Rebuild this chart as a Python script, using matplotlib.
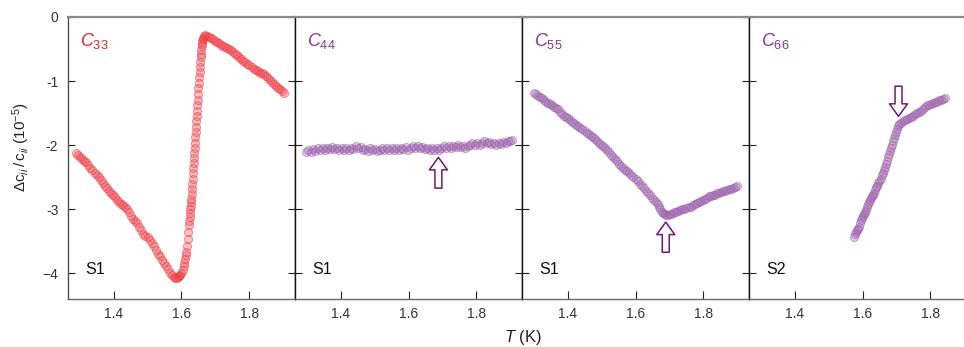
import numpy as np
import matplotlib
matplotlib.use('Agg')
import matplotlib.pyplot as plt

plt.rcParams['font.family'] = ['Liberation Sans', 'DejaVu Sans']
plt.rcParams['mathtext.fontset'] = 'custom'
plt.rcParams['mathtext.rm'] = 'Liberation Sans'
plt.rcParams['mathtext.it'] = 'Liberation Sans:italic'

# (T in K, dc/c in 1e-5)
c33_pts = [
    (1.290, -2.12), (1.296, -2.16), (1.302, -2.18), (1.308, -2.21), (1.314, -2.25),
    (1.320, -2.27), (1.326, -2.31), (1.332, -2.35), (1.338, -2.38), (1.344, -2.43),
    (1.350, -2.46), (1.356, -2.50), (1.362, -2.55), (1.368, -2.59), (1.374, -2.63),
    (1.380, -2.67), (1.386, -2.72), (1.392, -2.75), (1.398, -2.78), (1.404, -2.81),
    (1.410, -2.85), (1.416, -2.88), (1.422, -2.91), (1.428, -2.94), (1.434, -2.97),
    (1.440, -3.00), (1.446, -3.05), (1.452, -3.10), (1.458, -3.15), (1.464, -3.19),
    (1.470, -3.22), (1.476, -3.27), (1.482, -3.32), (1.488, -3.38), (1.494, -3.41),
    (1.500, -3.44), (1.506, -3.48), (1.512, -3.53), (1.518, -3.58), (1.524, -3.63),
    (1.530, -3.70), (1.536, -3.73), (1.542, -3.79), (1.548, -3.84), (1.554, -3.88),
    (1.560, -3.93), (1.566, -3.99), (1.572, -4.03), (1.578, -4.06),
    (1.582, -4.07), (1.586, -4.07), (1.590, -4.06), (1.594, -4.04), (1.597, -4.02),
    (1.600, -3.99), (1.603, -3.95), (1.606, -3.89), (1.608, -3.84), (1.610, -3.78),
    (1.612, -3.72), (1.614, -3.66), (1.616, -3.57), (1.618, -3.47), (1.620, -3.36),
    (1.622, -3.24), (1.623, -3.18), (1.624, -3.12), (1.625, -3.06), (1.626, -3.00),
    (1.627, -2.95), (1.628, -2.89), (1.629, -2.84), (1.630, -2.76), (1.631, -2.68),
    (1.632, -2.60), (1.633, -2.52), (1.634, -2.44), (1.635, -2.36), (1.636, -2.28),
    (1.637, -2.20), (1.638, -2.12), (1.639, -2.04), (1.640, -1.96), (1.641, -1.88),
    (1.642, -1.80), (1.643, -1.72), (1.644, -1.63), (1.645, -1.55), (1.646, -1.46),
    (1.647, -1.38), (1.648, -1.29), (1.649, -1.20), (1.650, -1.11), (1.651, -1.03),
    (1.652, -0.94), (1.653, -0.86), (1.654, -0.78), (1.655, -0.70), (1.656, -0.63),
    (1.657, -0.57), (1.658, -0.51), (1.659, -0.46), (1.660, -0.42), (1.661, -0.38),
    (1.662, -0.35), (1.663, -0.32), (1.666, -0.29), (1.670, -0.28), (1.675, -0.29),
    (1.680, -0.31), (1.686, -0.33), (1.692, -0.35), (1.698, -0.37), (1.704, -0.39),
    (1.710, -0.41), (1.716, -0.43), (1.722, -0.45), (1.728, -0.47), (1.734, -0.49),
    (1.740, -0.50), (1.746, -0.52), (1.752, -0.55), (1.758, -0.57), (1.764, -0.60),
    (1.770, -0.63), (1.776, -0.66), (1.782, -0.68), (1.788, -0.70), (1.794, -0.73),
    (1.800, -0.75), (1.806, -0.78), (1.812, -0.81), (1.818, -0.83), (1.824, -0.85),
    (1.830, -0.87), (1.836, -0.88), (1.842, -0.89), (1.848, -0.92), (1.854, -0.95),
    (1.860, -0.99), (1.866, -1.02), (1.872, -1.05), (1.878, -1.08), (1.884, -1.11),
    (1.890, -1.13), (1.896, -1.15), (1.902, -1.18),
]

c44_t = [1.298, 1.305, 1.312, 1.319, 1.326, 1.333, 1.340, 1.347, 1.354, 1.361,
         1.368, 1.375, 1.382, 1.389, 1.396, 1.403, 1.410, 1.417, 1.424, 1.431,
         1.438, 1.445, 1.452, 1.459, 1.466, 1.473, 1.480, 1.487, 1.494, 1.501,
         1.508, 1.515, 1.522, 1.529, 1.536, 1.543, 1.550, 1.557, 1.564, 1.571,
         1.578, 1.585, 1.592, 1.599, 1.606, 1.613, 1.620, 1.627, 1.634, 1.641,
         1.648, 1.655, 1.662, 1.669, 1.676, 1.683, 1.690, 1.697, 1.704, 1.711,
         1.718, 1.725, 1.732, 1.739, 1.746, 1.753, 1.760, 1.767, 1.774, 1.781,
         1.788, 1.795, 1.802, 1.809, 1.816, 1.823, 1.830, 1.837, 1.844, 1.851,
         1.858, 1.865, 1.872, 1.879, 1.886, 1.893, 1.900, 1.905]
c44_v = [-2.11, -2.07, -2.10, -2.06, -2.09, -2.05, -2.08, -2.04, -2.07, -2.04,
         -2.06, -2.03, -2.06, -2.04, -2.07, -2.05, -2.08, -2.05, -2.07, -2.04,
         -2.06, -2.02, -2.05, -2.03, -2.08, -2.06, -2.09, -2.05, -2.08, -2.06,
         -2.09, -2.07, -2.05, -2.08, -2.04, -2.07, -2.05, -2.08, -2.05, -2.07,
         -2.04, -2.06, -2.03, -2.07, -2.04, -2.01, -2.04, -2.02, -2.05, -2.03,
         -2.06, -2.04, -2.07, -2.05, -2.08, -2.05, -2.07, -2.04, -2.02, -2.05,
         -2.02, -2.04, -2.01, -2.03, -2.00, -2.03, -2.01, -2.04, -2.02, -1.99,
         -1.97, -2.00, -1.97, -1.99, -1.96, -1.94, -1.97, -1.95, -1.98, -1.96,
         -1.99, -1.96, -1.98, -1.95, -1.97, -1.94, -1.93, -1.92]

c55_pts = [
    (1.300, -1.18), (1.306, -1.20), (1.312, -1.23), (1.318, -1.25), (1.324, -1.27),
    (1.330, -1.30), (1.336, -1.32), (1.342, -1.34), (1.348, -1.36), (1.354, -1.38),
    (1.360, -1.40), (1.366, -1.42), (1.372, -1.44), (1.378, -1.48), (1.384, -1.51),
    (1.390, -1.54), (1.396, -1.56), (1.402, -1.58), (1.408, -1.61), (1.414, -1.64),
    (1.420, -1.66), (1.426, -1.68), (1.432, -1.70), (1.438, -1.73), (1.444, -1.75),
    (1.450, -1.78), (1.456, -1.81), (1.462, -1.83), (1.468, -1.86), (1.474, -1.88),
    (1.480, -1.91), (1.486, -1.94), (1.492, -1.96), (1.498, -1.99), (1.504, -2.02),
    (1.510, -2.05), (1.516, -2.08), (1.522, -2.11), (1.528, -2.15), (1.534, -2.19),
    (1.540, -2.22), (1.546, -2.25), (1.552, -2.29), (1.558, -2.32), (1.564, -2.35),
    (1.570, -2.38), (1.576, -2.41), (1.582, -2.44), (1.588, -2.47), (1.594, -2.50),
    (1.600, -2.53), (1.606, -2.56), (1.612, -2.60), (1.618, -2.63), (1.624, -2.67),
    (1.630, -2.71), (1.636, -2.74), (1.642, -2.78), (1.648, -2.82), (1.654, -2.85),
    (1.660, -2.88), (1.665, -2.92), (1.669, -2.96), (1.673, -3.00), (1.677, -3.04),
    (1.681, -3.06), (1.686, -3.08), (1.691, -3.09), (1.696, -3.09), (1.702, -3.08),
    (1.708, -3.07), (1.714, -3.05), (1.720, -3.04), (1.726, -3.03), (1.732, -3.01),
    (1.738, -3.00), (1.744, -2.99), (1.750, -2.98), (1.756, -2.97), (1.762, -2.96),
    (1.768, -2.93), (1.774, -2.91), (1.780, -2.90), (1.786, -2.88), (1.792, -2.87),
    (1.798, -2.86), (1.804, -2.84), (1.810, -2.82), (1.816, -2.80), (1.822, -2.79),
    (1.828, -2.78), (1.834, -2.77), (1.840, -2.75), (1.846, -2.74), (1.852, -2.73),
    (1.858, -2.72), (1.864, -2.71), (1.870, -2.70), (1.876, -2.69), (1.882, -2.68),
    (1.888, -2.67), (1.894, -2.66), (1.900, -2.64),
]

c66_pts = [
    (1.575, -3.43), (1.578, -3.38), (1.581, -3.35), (1.584, -3.33), (1.587, -3.30),
    (1.590, -3.27), (1.593, -3.22), (1.596, -3.17), (1.599, -3.14), (1.602, -3.11),
    (1.605, -3.08), (1.608, -3.05), (1.611, -3.01), (1.614, -2.96), (1.617, -2.92),
    (1.620, -2.89), (1.623, -2.86), (1.626, -2.83), (1.629, -2.80), (1.632, -2.78),
    (1.635, -2.75), (1.638, -2.70), (1.641, -2.66), (1.644, -2.63), (1.647, -2.59),
    (1.650, -2.56), (1.653, -2.52), (1.656, -2.47), (1.659, -2.43), (1.662, -2.39),
    (1.665, -2.34), (1.668, -2.29), (1.671, -2.24), (1.674, -2.19), (1.677, -2.14),
    (1.680, -2.09), (1.683, -2.04), (1.686, -1.99), (1.689, -1.94), (1.692, -1.89),
    (1.695, -1.84), (1.698, -1.79), (1.701, -1.74), (1.704, -1.70), (1.708, -1.67),
    (1.713, -1.65), (1.718, -1.63), (1.724, -1.61), (1.730, -1.59), (1.736, -1.58),
    (1.742, -1.56), (1.748, -1.54), (1.754, -1.52), (1.760, -1.50), (1.766, -1.48),
    (1.772, -1.46), (1.778, -1.44), (1.784, -1.41), (1.790, -1.38), (1.796, -1.37),
    (1.802, -1.36), (1.808, -1.34), (1.814, -1.32), (1.820, -1.33), (1.826, -1.30),
    (1.832, -1.29), (1.838, -1.28), (1.842, -1.27),
]

labels = [r'$C_{33}$', r'$C_{44}$', r'$C_{55}$', r'$C_{66}$']
samples = ['S1', 'S1', 'S1', 'S2']
# arrow (T, tail, head) per panel, None where there is none
arrows = [None, (1.688, -2.67, -2.19), (1.689, -3.67, -3.20), (1.706, -1.08, -1.55)]

red = '#f03a42'
purple = '#9b5fab'
label_red = '#f01c24'
label_purple = '#8a3596'
arrow_col = '#74157a'

t33, v33 = np.array(c33_pts).T
t55, v55 = np.array(c55_pts).T
t66, v66 = np.array(c66_pts).T
series = [(t33, v33), (np.array(c44_t), np.array(c44_v)), (t55, v55), (t66, v66)]
colors = [red, purple, purple, purple]
lab_colors = [label_red, label_purple, label_purple, label_purple]

W, H = 964, 347
fig = plt.figure(figsize=(W / 100, H / 100), dpi=100)

left0, pw = 68, 227
top, bot = 17, 299

for i in range(4):
    x0 = left0 + i * pw
    ax = fig.add_axes([x0 / W, 1 - bot / H, pw / W, (bot - top) / H])
    t, v = series[i]
    c = colors[i]
    ax.plot(t, v, 'o', ls='none', ms=5.8, mew=0.8,
            mfc=matplotlib.colors.to_rgba(c, 0.3),
            mec=matplotlib.colors.to_rgba(c, 0.5))
    ax.set_xlim(1.266, 1.934)
    ax.set_ylim(-4.4, 0)
    ax.set_xticks([1.4, 1.6, 1.8])
    ax.set_xticklabels(['1.4', '1.6', '1.8'])
    ax.set_yticks([0, -1, -2, -3, -4])
    ax.tick_params(axis='both', direction='in', color='#222', labelcolor='#333',
                   labelsize=10, width=0.8)
    ax.tick_params(axis='x', length=6, pad=6)
    ax.tick_params(axis='y', length=5, right=True, pad=7)
    if i == 0:
        ax.set_yticklabels(['0', '-1', '-2', '-3', '\u22124'])
    else:
        ax.set_yticklabels([])

    ax.spines['top'].set_color('#8a8a8a')
    ax.spines['bottom'].set_color('#6a6a6a')
    ax.spines['left'].set_color('#505050' if i == 0 else '#111')
    ax.spines['right'].set_color('#111')
    for s in ax.spines.values():
        s.set_linewidth(1.0)
    ax.spines['top'].set_linewidth(1.6)

    ax.text(0.052, 0.915, labels[i], transform=ax.transAxes, color=lab_colors[i],
            fontsize=13, va='center', ha='left')
    ax.text(0.075, 0.105, samples[i], transform=ax.transAxes, color='#111',
            fontsize=11.5, va='center', ha='left')

    if arrows[i] is not None:
        xa, ytail, yhead = arrows[i]
        ax.annotate('', xy=(xa, yhead), xytext=(xa, ytail),
                    arrowprops=dict(arrowstyle='simple,head_width=1.3,head_length=0.9,tail_width=0.5',
                                    mutation_scale=10, fc='white', ec=arrow_col, lw=1.1,
                                    shrinkA=0, shrinkB=0))

fig.text(0.022, 0.575, r'$\mathit{\Delta}\mathrm{c}_{ii}\,/\,\mathrm{c}_{ii}$ (10$^{-5}$)', rotation=90,
         ha='center', va='center', fontsize=11, color='#222')
fig.text(0.543, 0.026, r'$T$ (K)', ha='center', va='center', fontsize=12, color='#222')

fig.savefig('out.png', dpi=100)
